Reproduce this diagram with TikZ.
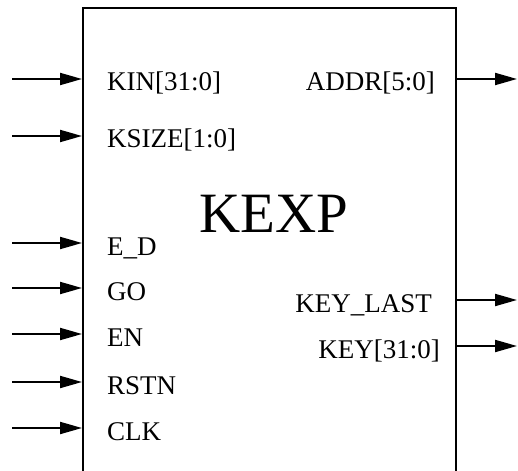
\documentclass[tikz,border=0pt]{standalone}
\usepackage{fontspec}
\setmainfont{Liberation Serif}
\usetikzlibrary{arrows.meta}
\begin{document}
\begin{tikzpicture}[x=1pt,y=-1pt,
  wire/.style={line width=2pt,-{Triangle[length=22pt,width=12pt]}},
  pinL/.style={anchor=base west,font=\fontsize{27}{30}\selectfont,inner sep=0pt},
  pinR/.style={anchor=base east,font=\fontsize{27}{30}\selectfont,inner sep=0pt},
  title/.style={anchor=base,font=\fontsize{57}{60}\selectfont,inner sep=0pt}]
\useasboundingbox (0,0) rectangle (518,470);
% module outline (open at the bottom)
\draw[line width=2pt] (83,472) -- (83,8) -- (456,8) -- (456,472);
\node[title] (name) at (274,232) {KEXP};
% input ports
\foreach \n/\t/\y in {kin/KIN[31:0]/79, ksize/KSIZE[1:0]/136, ed/E\_D/243,
                      go/GO/288, en/EN/334, rstn/RSTN/382, clk/CLK/428}{
  \coordinate (\n-src) at (12,\y);
  \coordinate (\n-pin) at (82,\y);
  \node[pinL] (\n) at (107,\y+12) {\t};
  \draw[wire] (\n-src) -- (\n-pin);
}
% output ports
\foreach \n/\t/\y/\r in {addr/ADDR[5:0]/79/435, last/KEY\_LAST/300/432, key/KEY[31:0]/346/440}{
  \coordinate (\n-pin) at (456,\y);
  \coordinate (\n-dst) at (517,\y);
  \node[pinR] (\n) at (\r,\y+12) {\t};
  \draw[wire] (\n-pin) -- (\n-dst);
}
\end{tikzpicture}
\end{document}
